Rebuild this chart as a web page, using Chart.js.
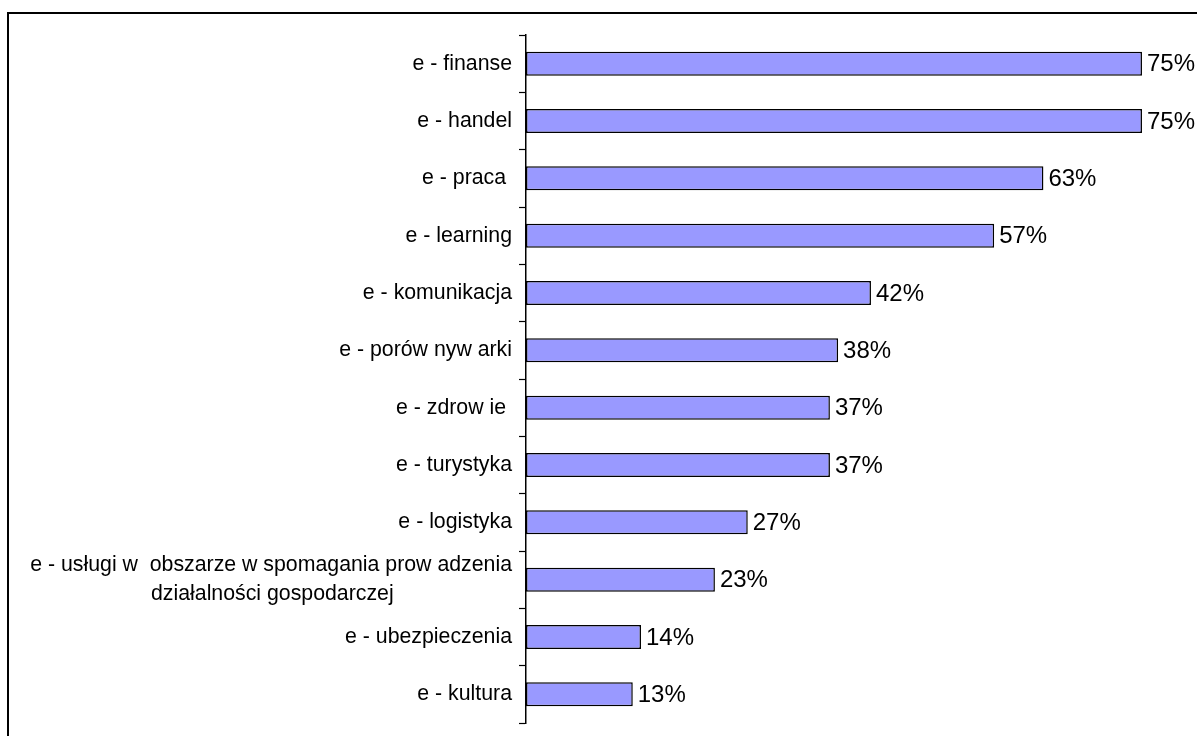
<!DOCTYPE html>
<html>
<head>
<meta charset="utf-8">
<script src="https://cdn.jsdelivr.net/npm/chart.js@4"></script>
<style>
  html, body { margin: 0; padding: 0; background: #fff; overflow: hidden; }
  #frame { position: absolute; left: 7px; top: 12px; width: 1400px; height: 900px;
           border-left: 2px solid #000; border-top: 2px solid #000; box-sizing: border-box; }
  #wrap { position: absolute; left: 0; top: 0; width: 1197px; height: 736px; }
</style>
</head>
<body>
<div id="frame"></div>
<div id="wrap"><canvas id="c" width="1197" height="736"></canvas></div>
<script>
const categories = [
  'e - finanse',
  'e - handel',
  'e - praca ',
  'e - learning',
  'e - komunikacja',
  'e - porów nyw arki',
  'e - zdrow ie ',
  'e - turystyka',
  'e - logistyka',
  ['e - usługi w  obszarze w spomagania prow adzenia', 'działalności gospodarczej\u2003\u2003\u2003\u2003\u2003  '],
  'e - ubezpieczenia',
  'e - kultura'
];
const values = [75, 75, 63, 57, 42, 38, 37, 37, 27, 23, 14, 13];
const valueLabels = ['75%', '75%', '63%', '57%', '42%', '38%', '37%', '37%', '27%', '23%', '14%', '13%'];

const FONT = "'Liberation Sans', Arial, sans-serif";

const valueLabelPlugin = {
  id: 'valueLabels',
  afterDatasetsDraw(chart) {
    const ctx = chart.ctx;
    const meta = chart.getDatasetMeta(0);
    ctx.save();
    ctx.font = '24px ' + FONT;
    ctx.fillStyle = '#000';
    ctx.textAlign = 'left';
    ctx.textBaseline = 'middle';
    meta.data.forEach((bar, i) => {
      ctx.fillText(valueLabels[i], bar.x + 5, bar.y + 1);
    });
    ctx.restore();
  }
};

new Chart(document.getElementById('c'), {
  type: 'bar',
  data: {
    labels: categories,
    datasets: [{
      data: values,
      backgroundColor: '#9999FF',
      borderColor: '#000000',
      borderWidth: 1.5,
      borderSkipped: false,
      barPercentage: 0.84,
      categoryPercentage: 0.5
    }]
  },
  options: {
    indexAxis: 'y',
    responsive: false,
    animation: false,
    events: [],
    layout: { padding: { top: 35, bottom: 13, left: 0, right: 0 } },
    plugins: { legend: { display: false }, tooltip: { enabled: false } },
    scales: {
      x: { display: false, min: 0, max: 81.7 },
      y: {
        offset: true,
        afterFit(scale) { scale.width = 526; scale.paddingTop = 0; scale.paddingBottom = 0; },
        grid: { drawOnChartArea: false, drawTicks: true, tickLength: 7, tickWidth: 1.2, tickColor: '#000', offset: true },
        border: { display: true, color: '#000', width: 1.5 },
        ticks: {
          color: '#000',
          padding: 7,
          autoSkip: false,
          font: { family: FONT, size: 21.3, lineHeight: 1.4 }
        }
      }
    }
  },
  plugins: [valueLabelPlugin]
});
</script>
</body>
</html>
